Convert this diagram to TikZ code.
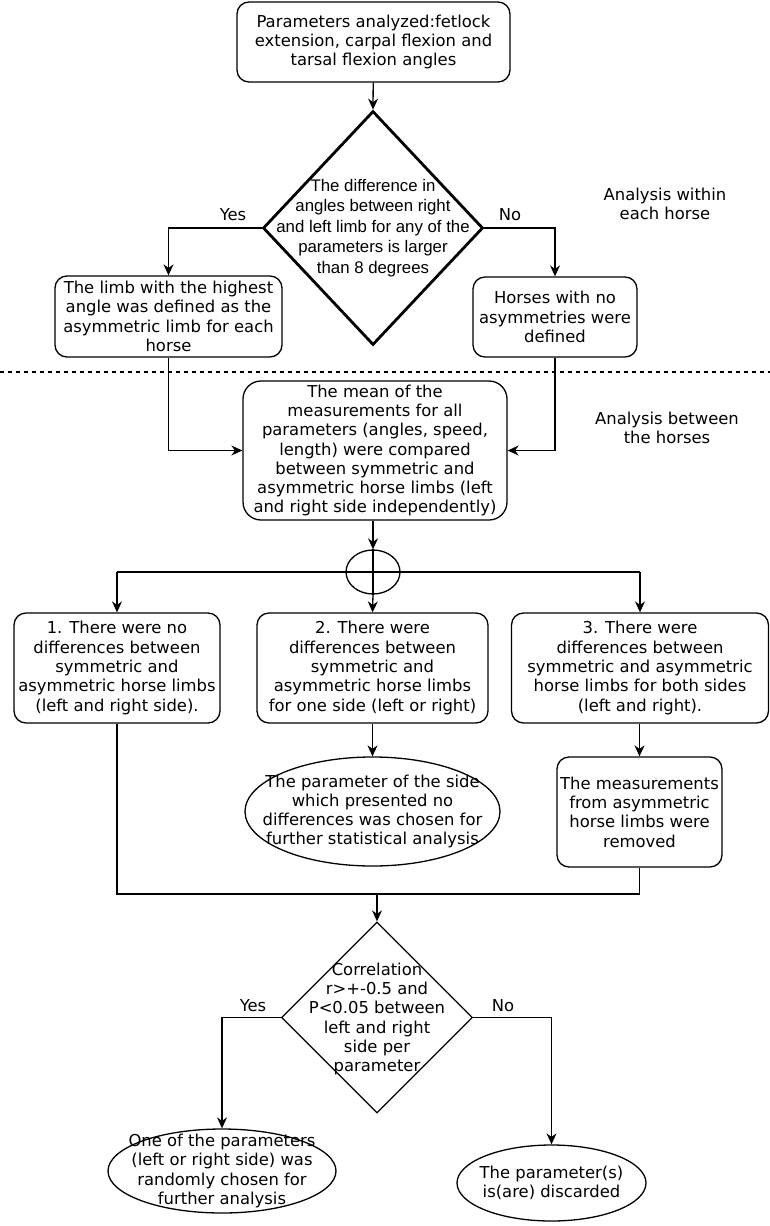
\documentclass[tikz,border=0pt]{standalone}
\usepackage{fontspec}
\setmainfont{DejaVu Sans}
\newfontfamily\arialf{Liberation Sans}
\usetikzlibrary{shapes.geometric,arrows.meta}
\begin{document}
\begin{tikzpicture}[x=1pt,y=-1pt,
 txt/.style={font=\fontsize{16.4}{19.3}\selectfont, align=center, inner sep=0},
 rbox/.style={draw, rounded corners=12pt, line width=1.3pt, txt},
 oval/.style={draw, ellipse, line width=1.3pt, inner sep=0},
 con/.style={line width=1.3pt},
 arr/.style={line width=1.3pt, -{Stealth[length=11pt,width=10pt]}},
]
\useasboundingbox (0,0) rectangle (770,1226);

% top
\node[rbox, minimum width=273, minimum height=80] (top) at (373.5,42)
  {Parameters analyzed:fetlock\\extension, carpal flexion and\\tarsal flexion angles};

% diamond 1
\node[diamond, draw, line width=2.8pt, minimum width=220, minimum height=234, inner sep=0] (d1) at (373,228) {};
\node[txt, font=\arialf\fontsize{16.8}{20.6}\selectfont] (d1t) at (373,228)
  {The difference in\\angles between right\\and left limb for any of the\\parameters is larger\\than 8 degrees};

\node[rbox, minimum width=227, minimum height=81] (lbox) at (168.5,316.5)
  {The limb with the highest\\angle was defined as the\\asymmetric limb for each\\horse};
\node[rbox, minimum width=164, minimum height=80] (rbox) at (555,317)
  {Horses with no\\asymmetries were\\defined};

\node[txt] (yes1) at (233,215) {Yes};
\node[txt] (no1) at (510,215) {No};
\draw[arr] (top) -- (d1.north);
\draw[arr] (d1.west) -| (lbox.north);
\draw[arr] (d1.east) -| (rbox.north);

\node[txt] (an1) at (665,204) {Analysis within\\each horse};
\node[txt] (an2) at (667,428) {Analysis between\\the horses};

\coordinate (dl) at (0,372);
\coordinate (dr) at (770,372);
\draw[con, dash pattern=on 4pt off 4pt] (dl) -- (dr);

% middle
\node[rbox, rounded corners=18pt, minimum width=264, minimum height=139] (mid) at (375,450.5)
  {The mean of the\\measurements for all\\parameters (angles, speed,\\length) were compared\\between symmetric and\\asymmetric horse limbs (left\\and right side independently)};
\draw[arr] (lbox.south) |- (mid.west);
\draw[arr] (rbox.south) |- (mid.east);

% junction
\node[draw, ellipse, line width=1.3pt, minimum width=54, minimum height=44, inner sep=0] (j) at (373,572) {};
\draw[arr] (mid.south -| j.north) -- (j.north);
\coordinate (jl) at (117,572);
\coordinate (jr) at (640,572);
\draw[con] (jl) -- (jr);
\draw[con] (j.north) -- (j.south);

\node[rbox, minimum width=206, minimum height=110] (b1) at (117,668)
  {1. There were no\\differences between\\symmetric and\\asymmetric horse limbs\\(left and right side).};
\node[rbox, minimum width=231, minimum height=110] (b2) at (372.5,668)
  {2. There were\\differences between\\symmetric and\\asymmetric horse limbs\\for one side (left or right)};
\node[rbox, minimum width=257, minimum height=110] (b3) at (640,668)
  {3. There were\\differences between\\symmetric and asymmetric\\horse limbs for both sides\\(left and right).};
\draw[arr] (jl) -- (jl |- b1.north);
\draw[arr] (j.south) -- (b2.north);
\draw[arr] (jr) -- (jr |- b3.north);

\node[oval, minimum width=255, minimum height=109] (e2) at (372.5,811.5) {};
\node[txt] (e2t) at (372.5,811.5)
  {The parameter of the side\\which presented no\\differences was chosen for\\further statistical analysis};
\node[rbox, minimum width=165, minimum height=110] (b4) at (639.5,812)
  {The measurements\\from asymmetric\\horse limbs were\\removed};
\draw[arr] (b2.south) -- (e2.north);
\draw[arr] (b3.south -| b4.north) -- (b4.north);

\coordinate (m) at (377,894);
\draw[con] (b1.south) |- (m);
\draw[con] (b4.south) |- (m);

% diamond 2
\node[diamond, draw, line width=1.3pt, minimum width=191, minimum height=191, inner sep=0] (d2) at (377,1017.5) {};
\node[txt] (d2t) at (377,1019)
  {Correlation\\r>+-0.5 and\\P<0.05 between\\left and right\\side per\\parameter};
\draw[arr] (m) -- (d2.north);

\node[txt] (yes2) at (253,1006) {Yes};
\node[txt] (no2) at (503,1006) {No};

\node[oval, minimum width=228, minimum height=84] (e3) at (222,1171) {};
\node[txt] (e3t) at (222,1171)
  {One of the parameters\\(left or right side) was\\randomly chosen for\\further analysis};
\node[oval, minimum width=189, minimum height=76] (e4) at (551.5,1183) {};
\node[txt] (e4t) at (551.5,1183)
  {The parameter(s)\\is(are) discarded};
\draw[arr] (d2.west) -| (e3.north);
\draw[arr] (d2.east) -| (e4.north);
\end{tikzpicture}
\end{document}
